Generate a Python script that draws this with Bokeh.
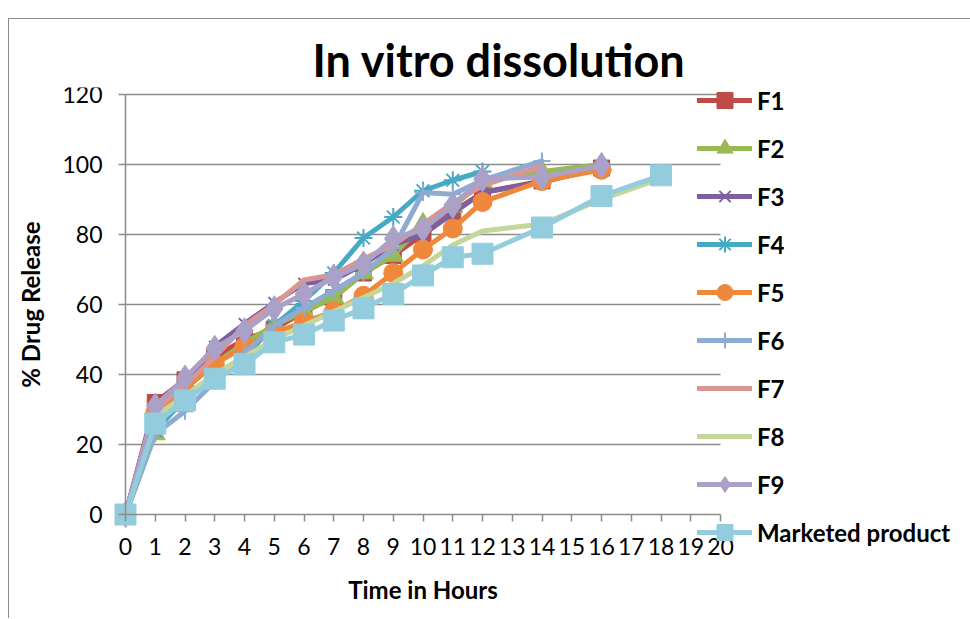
from bokeh.plotting import figure
from bokeh.models import Legend, LegendItem, FixedTicker, Range1d
from bokeh.embed import file_html
from bokeh.resources import INLINE

# ---- data ----
t_std = [0, 1, 2, 3, 4, 5, 6, 7, 8, 9, 10, 11, 12, 14, 16]
t_f4 = [0, 1, 2, 3, 4, 5, 6, 7, 8, 9, 10, 11, 12]
t_14 = [0, 1, 2, 3, 4, 5, 6, 7, 8, 9, 10, 11, 12, 14]
t_18 = [0, 1, 2, 3, 4, 5, 6, 7, 8, 9, 10, 11, 12, 14, 16, 18]

f1 = [0, 32, 38.5, 45, 50, 53, 58, 62, 69, 74, 80, 86.5, 92, 95.3, 99]
f2 = [0, 23, 36, 43, 49, 54, 58, 62, 69, 74, 83, 88, 95, 98, 100]
f3 = [0, 31, 38, 48, 54.5, 60.5, 66, 67, 71.5, 77, 80, 86, 92, 95, 99]
f4 = [0, 24, 33, 40, 45, 54, 61, 69, 79, 85, 92.5, 95.5, 98]
f5 = [0, 29, 36, 43, 48, 52, 55, 58, 62.5, 69, 75.7, 81.7, 89.3, 95.3, 98.5]
f6 = [0, 23, 29.5, 38, 46, 54, 59, 64, 69, 76, 92, 91.5, 95.5, 101]
f7 = [0, 30, 37, 45, 54, 60, 67, 68.5, 73, 77, 83, 89, 94, 99.5]
f8 = [0, 28, 34, 40, 45, 50, 54, 58, 62, 66, 71, 77, 81, 83, 90, 96]
f9 = [0, 31, 39, 47.5, 52.5, 58.8, 63, 67.8, 71.6, 78.8, 81.6, 88.3, 95.9, 96.4, 99.7]
mkt = [0, 26, 32.6, 38.8, 42.9, 49.2, 51.4, 55.4, 58.9, 63, 68.3, 73.5, 74.5, 82, 91, 96.9]

x_ticks = list(range(0, 21))
y_ticks = [0, 20, 40, 60, 80, 100, 120]

FONT = "Lato"

# The frame covers the whole canvas below the title (so the legend can sit
# over the right edge of the data area); axes are fixed at 0 and bounded.
PX_X = 29.75   # pixels per hour
PX_Y = 3.5     # pixels per percent
W, H = 962, 600          # canvas (page offset 9, 19 by margin + border)
FR_T = 68                # frame top in canvas px
X0_PX, Y0_PX = 125 - 9, 514 - 19   # canvas position of the (0, 0) point
x_start = -X0_PX / PX_X
x_end = (W - X0_PX) / PX_X
y_end = (Y0_PX - FR_T) / PX_Y
y_start = -(H - Y0_PX) / PX_Y

p = figure(width=W, height=H, output_backend="svg", toolbar_location=None,
           x_range=Range1d(x_start, x_end), y_range=Range1d(y_start, y_end),
           min_border_left=0, min_border_right=0, min_border_top=FR_T,
           min_border_bottom=0)
p.styles = {"margin-left": "8px", "margin-top": "18px",
            "border-left": "1px solid #8c8c8c", "border-top": "1px solid #8c8c8c"}

p.outline_line_color = None
p.xgrid.grid_line_color = None
p.ygrid.grid_line_color = None

p.title.text = "In vitro dissolution"
p.title.text_font = FONT
p.title.text_font_style = "bold"
p.title.text_font_size = "45px"
p.title.text_color = "black"
p.title.align = "left"
p.title.offset = 303
p.title.standoff = 1

for ax in (p.xaxis[0], p.yaxis[0]):
    ax.axis_line_color = "#8c8c8c"
    ax.axis_line_width = 1.5
    ax.major_tick_line_color = "#8c8c8c"
    ax.major_tick_line_width = 1.5
    ax.major_tick_in = 0
    ax.major_tick_out = 7
    ax.minor_tick_line_color = None
    ax.major_label_text_font = FONT
    ax.major_label_text_font_size = "23px"
    ax.major_label_text_color = "black"
    ax.axis_label_text_font = FONT
    ax.axis_label_text_font_style = "bold"
    ax.axis_label_text_font_size = "24px"
    ax.axis_label_text_color = "black"

p.xaxis[0].ticker = FixedTicker(ticks=x_ticks)
p.yaxis[0].ticker = FixedTicker(ticks=y_ticks)
p.xaxis[0].bounds = (x_ticks[0], x_ticks[-1])
p.yaxis[0].bounds = (y_ticks[0], y_ticks[-1])
p.xaxis[0].fixed_location = 0
p.yaxis[0].fixed_location = 0
p.xaxis[0].axis_label = "Time in Hours"
p.yaxis[0].axis_label = "% Drug Release"
p.xaxis[0].major_label_standoff = 16
p.yaxis[0].major_label_standoff = 16
p.xaxis[0].axis_label_standoff = 17
p.yaxis[0].axis_label_standoff = 14

# horizontal gridlines over the data region only
gy = y_ticks[1:]
p.segment(x0=[x_ticks[0]] * len(gy), x1=[x_ticks[-1]] * len(gy), y0=gy, y1=gy,
          line_color="#8c8c8c", line_width=1.5)

LW = 5
series = [
    ("F1", t_std, f1, "#BE4B48", "square", 16),
    ("F2", t_std, f2, "#98B954", "triangle", 20),
    ("F3", t_std, f3, "#7D60A0", "x", 16),
    ("F4", t_f4, f4, "#46AAC5", "asterisk", 18),
    ("F5", t_std, f5, "#F0883C", "circle", 19),
    ("F6", t_14, f6, "#8EABD2", "cross", 17),
    ("F7", t_14, f7, "#D99694", None, 0),
    ("F8", t_18, f8, "#C3D69B", None, 0),
    ("F9", t_std, f9, "#ABA0C8", "diamond", 26),
    ("Marketed product", t_18, mkt, "#93CDDD", "square", 21),
]

items = []
for name, xs, ys, col, mk, sz in series:
    rs = [p.line(xs, ys, line_color=col, line_width=LW, line_join="round", line_cap="round")]
    if mk is not None:
        if mk in ("x", "asterisk", "cross"):
            rs.append(p.scatter(xs, ys, marker=mk, size=sz, line_color=col, line_width=2))
        else:
            rs.append(p.scatter(xs, ys, marker=mk, size=sz, fill_color=col, line_color=col, line_width=1))
    items.append(LegendItem(label=name, renderers=rs))

legend = Legend(items=items, location=(697 - 9, 67), ncols=1)
legend.label_text_font = FONT
legend.label_text_font_style = "bold"
legend.label_text_font_size = "24px"
legend.label_text_color = "black"
legend.glyph_width = 55
legend.glyph_height = 40
legend.label_height = 20
legend.spacing = 8
legend.padding = 0
legend.margin = 0
legend.label_standoff = 5
legend.border_line_color = None
legend.background_fill_alpha = 0
p.add_layout(legend, "center")

open("out.html", "w").write(file_html(p, INLINE))
